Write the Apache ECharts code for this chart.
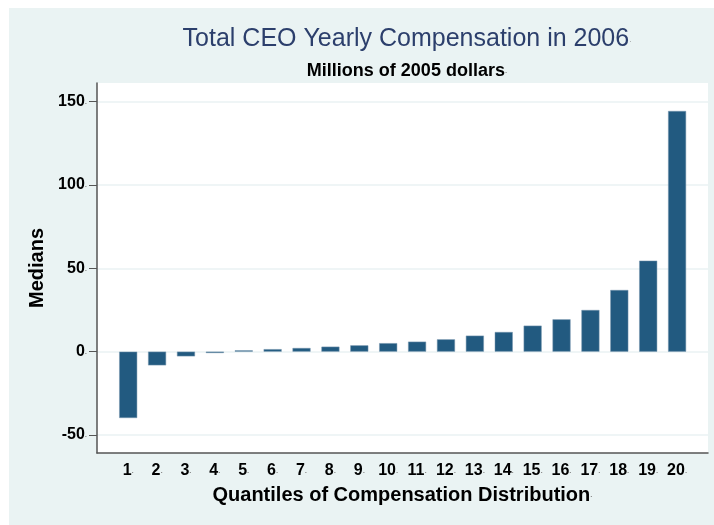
<!DOCTYPE html>
<html><head><meta charset="utf-8">
<script src="https://cdn.jsdelivr.net/npm/echarts@6/dist/echarts.min.js"></script>
<style>html,body{margin:0;padding:0;background:#fff}#c{width:714px;height:525px}</style>
</head><body><div id="c"></div>
<script>
const quantiles = ['1','2','3','4','5','6','7','8','9','10','11','12','13','14','15','16','17','18','19','20'];
const medians = [-39.8, -8.2, -2.8, -0.8, 0.8, 1.5, 2.2, 3.0, 3.8, 5.1, 6.0, 7.4, 9.6, 11.8, 15.6, 19.4, 25.0, 37.0, 54.6, 144.4];
const yTicks = [-50, 0, 50, 100, 150];
const xTicks = quantiles.map(Number);

const FONT = '"Liberation Sans", Arial, sans-serif';
const dotRich = { d: { fontSize: 8, color: '#888', fontFamily: FONT } };

const chart = echarts.init(document.getElementById('c'), null, { renderer: 'canvas' });
chart.setOption({
  animation: false,
  backgroundColor: '#ffffff',
  graphic: [
    { type: 'rect', z: -10, shape: { x: 9, y: 8, width: 705, height: 517 }, style: { fill: '#EAF3F3' } },
    { type: 'rect', z: -9, shape: { x: 97, y: 83, width: 611, height: 370 }, style: { fill: '#ffffff' } }
  ],
  title: [
    { text: 'Total CEO Yearly Compensation in 2006{d|.}', left: 402, top: 22, textAlign: 'center',
      textStyle: { fontFamily: FONT, fontSize: 25, fontWeight: 'normal', color: '#2C3F6C', rich: dotRich } },
    { text: 'Millions of 2005 dollars{d|.}', left: 402, top: 57, textAlign: 'center',
      textStyle: { fontFamily: FONT, fontSize: 18, fontWeight: 'bold', color: '#000', rich: dotRich } }
  ],
  grid: { left: 97, right: 6, top: 83, bottom: 72, containLabel: false },
  xAxis: {
    type: 'value', min: -0.08, max: 21.07,
    name: 'Quantiles of Compensation Distribution{d|.}', nameLocation: 'middle', nameGap: 32,
    nameTextStyle: { fontFamily: FONT, fontSize: 20, fontWeight: 'bold', color: '#000', rich: dotRich },
    axisLine: { show: true, onZero: false, lineStyle: { color: '#555', width: 1.5 } },
    axisTick: { show: false, customValues: xTicks },
    splitLine: { show: false },
    axisLabel: { customValues: xTicks, formatter: v => v + '{d|.}', fontFamily: FONT, fontSize: 16, fontWeight: 'bold', color: '#000', margin: 10, rich: dotRich }
  },
  yAxis: {
    type: 'value', min: -60.8, max: 161.2,
    name: 'Medians', nameLocation: 'middle', nameGap: 43, nameRotate: 90,
    nameTextStyle: { fontFamily: FONT, fontSize: 20, fontWeight: 'bold', color: '#000' },
    axisLine: { show: true, onZero: false, lineStyle: { color: '#555', width: 1.5 } },
    axisTick: { show: true, length: 8, customValues: yTicks, lineStyle: { color: '#555', width: 1 } },
    splitLine: { show: true, lineStyle: { color: '#EAF2F3', width: 1.5 } },
    axisLabel: { customValues: yTicks, formatter: v => v + '{d|.}', fontFamily: FONT, fontSize: 16, fontWeight: 'bold', color: '#000', margin: 10, rich: dotRich }
  },
  series: [{
    type: 'bar',
    data: quantiles.map((q, i) => [Number(q), medians[i]]),
    barWidth: 18,
    itemStyle: { color: '#225A80', borderColor: '#7896AE', borderWidth: 0.5 }
  }]
});
</script></body></html>
